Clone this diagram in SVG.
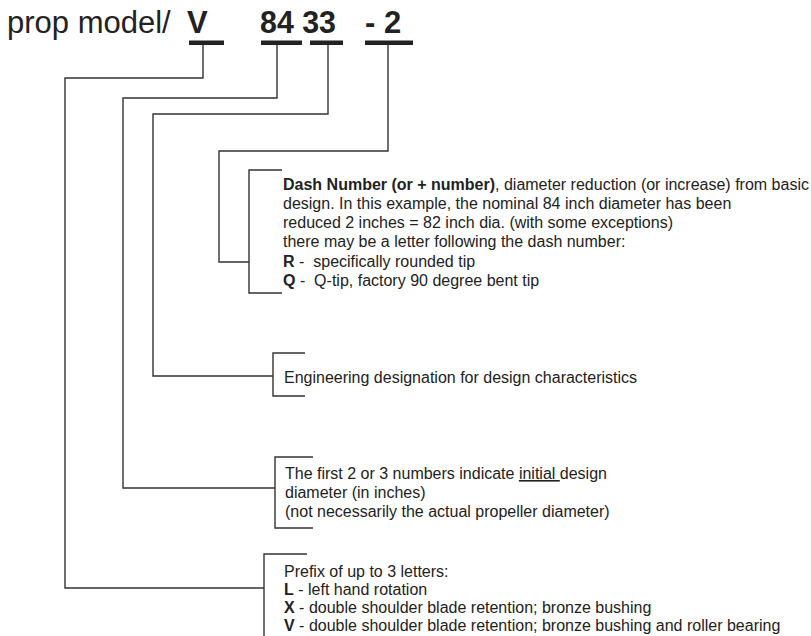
<svg xmlns="http://www.w3.org/2000/svg" width="811" height="636" viewBox="0 0 811 636">
<style>
  .t { font-family: "Liberation Sans", Arial, sans-serif; font-size: 16px; fill: #222; }
  .b { font-weight: bold; }
  .title { font-family: "Liberation Sans", Arial, sans-serif; font-size: 31px; fill: #222; }
  .ln { fill: none; stroke: #333; stroke-width: 1.4; }
  .bar { fill: #222; }
</style>
<rect width="811" height="636" fill="#fff"/>

<g id="title">
  <text class="title" x="7" y="33">prop model/</text>
  <text class="title b" x="187" y="33">V</text>
  <text class="title b" x="260" y="33" textLength="76" lengthAdjust="spacingAndGlyphs">84 33</text>
  <text class="title b" x="365" y="33">- 2</text>
  <rect class="bar" x="189" y="40.5" width="35" height="4.5"/>
  <rect class="bar" x="261" y="40.5" width="41" height="4.5"/>
  <rect class="bar" x="310" y="40.5" width="33" height="4.5"/>
  <rect class="bar" x="365" y="40.5" width="48" height="4.5"/>
</g>

<g id="connectors">
  <polyline class="ln" points="203,45 203,78 65,78 65,588 264,588"/>
  <polyline class="ln" points="277,45 277,98 123,98 123,488 275,488"/>
  <polyline class="ln" points="328,45 328,114 153,114 153,376 273,376"/>
  <polyline class="ln" points="388,45 388,151 219,151 219,262 249,262"/>
</g>

<g id="dash-number">
  <polyline class="ln" points="282,170 249,170 249,293 282,293"/>
  <text class="t" x="283" y="190"><tspan class="b">Dash Number (or + number)</tspan>, diameter reduction (or increase) from basic</text>
  <text class="t" x="283" y="209">design. In this example, the nominal 84 inch diameter has been</text>
  <text class="t" x="283" y="228">reduced 2 inches = 82 inch dia. (with some exceptions)</text>
  <text class="t" x="283" y="247">there may be a letter following the dash number:</text>
  <text class="t" x="283" y="267" xml:space="preserve"><tspan class="b">R</tspan> -  specifically rounded tip</text>
  <text class="t" x="283" y="286" xml:space="preserve"><tspan class="b">Q</tspan> -  Q-tip, factory 90 degree bent tip</text>
</g>

<g id="engineering">
  <polyline class="ln" points="305,353 273,353 273,396 305,396"/>
  <text class="t" x="284" y="383">Engineering designation for design characteristics</text>
</g>

<g id="initial-diameter">
  <polyline class="ln" points="313,457 275,457 275,528 313,528"/>
  <text class="t" x="285" y="479" xml:space="preserve">The first 2 or 3 numbers indicate <tspan text-decoration="underline">initial </tspan>design</text>
  <text class="t" x="285" y="498">diameter (in inches)</text>
  <text class="t" x="285" y="517">(not necessarily the actual propeller diameter)</text>
</g>

<g id="prefix">
  <polyline class="ln" points="307,554 264,554 264,636"/>
  <text class="t" x="284" y="577">Prefix of up to 3 letters:</text>
  <text class="t" x="284" y="595"><tspan class="b">L</tspan> - left hand rotation</text>
  <text class="t" x="284" y="613"><tspan class="b">X</tspan> - double shoulder blade retention; bronze bushing</text>
  <text class="t" x="284" y="631"><tspan class="b">V</tspan> - double shoulder blade retention; bronze bushing and roller bearing</text>
</g>
</svg>
